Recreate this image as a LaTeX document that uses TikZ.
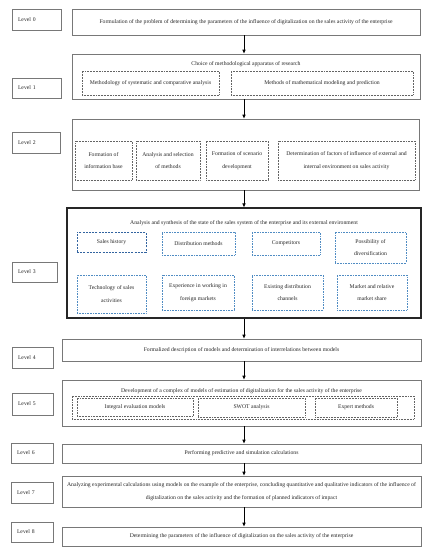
\documentclass[tikz,border=0pt]{standalone}
\usepackage{fontspec}
\setmainfont{Liberation Serif}
\usetikzlibrary{arrows.meta}
\definecolor{bord}{RGB}{120,120,120}
\definecolor{dotg}{RGB}{100,100,100}
\definecolor{dotb}{RGB}{80,140,195}
\definecolor{dashb}{RGB}{50,100,160}
\definecolor{txt}{RGB}{40,40,40}
\tikzset{
  base/.style={rectangle, inner sep=0pt, text=txt, font=\fontsize{5.7}{12.5}\selectfont, align=center},
  mainbox/.style={base, draw=bord, line width=0.6pt},
  bigbox/.style={base, draw=black!85, line width=1.1pt},
  lvlbox/.style={base, draw=bord, line width=0.6pt, align=left, inner xsep=6pt},
  dotbox/.style={base, draw=dotg, line width=0.55pt, densely dotted},
  bluebox/.style={base, draw=dotb, line width=0.6pt, densely dotted},
  bluedash/.style={base, draw=dashb, line width=0.8pt, dash pattern=on 2pt off 1.2pt},
  ttl/.style={base},
  arr/.style={draw=black, line width=0.6pt, -{Latex[length=4pt,width=3.5pt]}}
}
\begin{document}
\begin{tikzpicture}[x=1pt,y=-1pt]
\useasboundingbox (0,0) rectangle (430,550);
\fill[white] (0,0) rectangle (430,550);
\coordinate (ax) at (244,0);
% level labels
\node[lvlbox, minimum width=49, minimum height=21, text width=37] (lv0) at (36.5,19.5) {Level 0};
\node[lvlbox, minimum width=49, minimum height=20, text width=37] (lv1) at (36.5,88) {Level 1};
\node[lvlbox, minimum width=48, minimum height=21, text width=36] (lv2) at (36,142.5) {Level 2};
\node[lvlbox, minimum width=45, minimum height=20, text width=33] (lv3) at (34.5,272) {Level 3};
\node[lvlbox, minimum width=41, minimum height=21, text width=29] (lv4) at (32.5,357.5) {Level 4};
\node[lvlbox, minimum width=41, minimum height=22, text width=29] (lv5) at (32.5,404) {Level 5};
\node[lvlbox, minimum width=42, minimum height=20, text width=30] (lv6) at (32,453) {Level 6};
\node[lvlbox, minimum width=42, minimum height=21, text width=30] (lv7) at (32,492.5) {Level 7};
\node[lvlbox, minimum width=42, minimum height=20, text width=30] (lv8) at (32,532) {Level 8};
% level 0
\node[mainbox, minimum width=348, minimum height=26] (m0) at (246,22) {Formulation of the problem of determining the parameters of the influence of digitalization on the sales activity of the enterprise};
% level 1
\node[mainbox, minimum width=348, minimum height=45] (m1) at (246,76.5) {};
\node[ttl] (t1) at (246,64) {Choice of methodological apparatus of research};
\node[dotbox, minimum width=137, minimum height=24] (d1a) at (150.5,83) {Methodology of systematic and comparative analysis};
\node[dotbox, minimum width=182, minimum height=24] (d1b) at (322,83) {Methods of mathematical modeling and prediction};
% level 2
\node[mainbox, minimum width=347, minimum height=71] (m2) at (245.5,154.5) {};
\node[dotbox, minimum width=57, minimum height=39] (b1) at (103.5,160.5) {Formation of\\information base};
\node[dotbox, minimum width=64, minimum height=39] (b2) at (168,160.5) {Analysis and selection\\of methods};
\node[dotbox, minimum width=62, minimum height=39] (b3) at (237,160.5) {Formation of scenario\\development};
\node[dotbox, minimum width=137, minimum height=39] (b4) at (346.5,160.5) {Determination of factors of influence of external and\\internal environment on sales activity};
% level 3
\node[bigbox, minimum width=354, minimum height=110] (m3) at (244,263) {};
\node[ttl] (t3) at (244,223) {Analysis and synthesis of the state of the sales system of the enterprise and its external environment};
\node[bluedash, minimum width=69, minimum height=20] (s1) at (111.5,242) {Sales history};
\node[bluebox, minimum width=73, minimum height=23] (s2) at (198.5,243.5) {Distribution methods};
\node[bluebox, minimum width=68, minimum height=23] (s3) at (286,243.5) {Competitors};
\node[bluebox, minimum width=71, minimum height=31] (s4) at (370.5,247.5) {Possibility of\\diversification};
\node[bluebox, minimum width=69, minimum height=38] (s5) at (111.5,294) {Technology of sales\\activities};
\node[bluebox, minimum width=72, minimum height=35] (s6) at (198,292.5) {Experience in working in\\foreign markets};
\node[bluebox, minimum width=71, minimum height=35] (s7) at (287.5,292.5) {Existing distribution\\channels};
\node[bluebox, minimum width=70, minimum height=35] (s8) at (372,292.5) {Market and relative\\market share};
% level 4
\node[mainbox, minimum width=359, minimum height=22] (m4) at (241.5,350) {Formalized description of models and determination of interrelations between models};
% level 5
\node[mainbox, minimum width=359, minimum height=46] (m5) at (241.5,403) {};
\node[ttl] (t5) at (241.5,391) {Development of a complex of models of estimation of digitalization for the sales activity of the enterprise};
\node[dotbox, minimum width=342, minimum height=23] (o5) at (243,407.5) {};
\node[dotbox, minimum width=116, minimum height=18] (e1) at (135,407) {Integral evaluation models};
\node[dotbox, minimum width=107, minimum height=19] (e2) at (251.5,407.5) {SWOT analysis};
\node[dotbox, minimum width=82, minimum height=19] (e3) at (356,407.5) {Expert methods};
% level 6-8
\node[mainbox, minimum width=359, minimum height=19] (m6) at (241.5,453.5) {Performing predictive and simulation calculations};
\node[mainbox, minimum width=359, minimum height=31] (m7) at (241.5,491.5) {Analyzing experimental calculations using models on the example of the enterprise, concluding quantitative and qualitative indicators of the influence of\\digitalization on the sales activity and the formation of planned indicators of impact};
\node[mainbox, minimum width=359, minimum height=19] (m8) at (241.5,536.5) {Determining the parameters of the influence of digitalization on the sales activity of the enterprise};
% arrows
\draw[arr] (m0.south -| ax) -- (m1.north -| ax);
\draw[arr] (m1.south -| ax) -- (m2.north -| ax);
\draw[arr] (m2.south -| ax) -- (m3.north -| ax);
\draw[arr] (m3.south -| ax) -- (m4.north -| ax);
\draw[arr] (m4.south -| ax) -- (m5.north -| ax);
\draw[arr] (m5.south -| ax) -- (m6.north -| ax);
\draw[arr] (m6.south -| ax) -- (m7.north -| ax);
\draw[arr] (m7.south -| ax) -- (m8.north -| ax);
\end{tikzpicture}
\end{document}
